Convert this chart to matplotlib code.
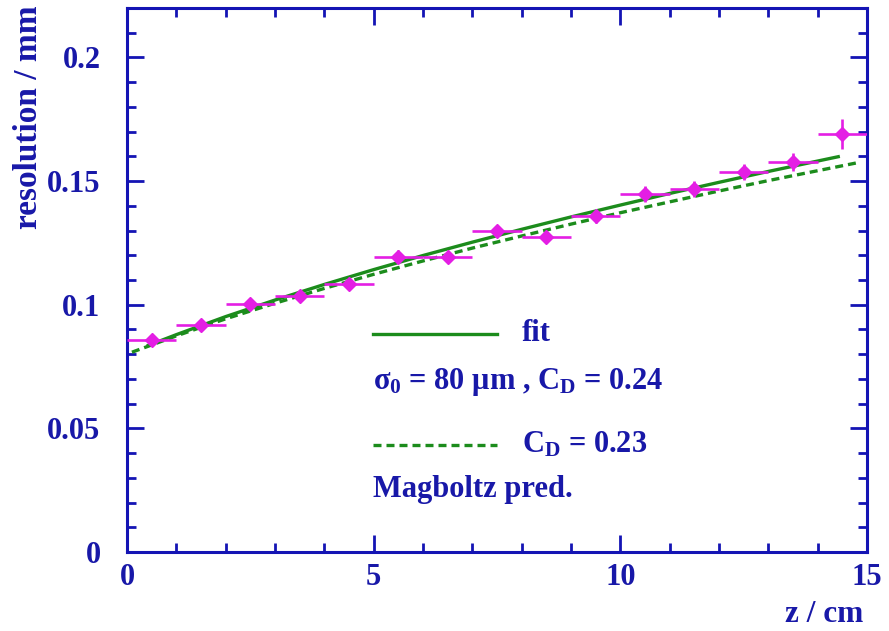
import matplotlib
matplotlib.use("Agg")
import matplotlib.pyplot as plt
from matplotlib.ticker import MultipleLocator, FixedLocator

# ---- data ----
z_bins = [0.5, 1.5, 2.5, 3.5, 4.5, 5.5, 6.5, 7.5, 8.5, 9.5, 10.5, 11.5, 12.5, 13.5, 14.5]
z_halfwidth = [0.5] * 15
resolution = [0.0857, 0.0920, 0.1003, 0.1036, 0.1082, 0.1195, 0.1192, 0.1298, 0.1274,
              0.1357, 0.1448, 0.1468, 0.1538, 0.1577, 0.1690]
res_err = [0.0022, 0.0020, 0.0022, 0.0024, 0.0024, 0.0025, 0.0025, 0.0026, 0.0026,
           0.0028, 0.0034, 0.0032, 0.0032, 0.0036, 0.0060]

fit_z = [0.4, 1, 2, 3, 4, 5, 6, 7, 8, 9, 10, 11, 12, 13, 14.45]
fit_res = [0.0833, 0.0879, 0.0952, 0.1019, 0.1082, 0.1142, 0.1199, 0.1253, 0.1305,
           0.1355, 0.1403, 0.1450, 0.1495, 0.1539, 0.1600]

pred_z = [0.1, 1, 2, 3, 4, 5, 6, 7, 8, 9, 10, 11, 12, 13, 14, 14.8]
pred_res = [0.0808, 0.0874, 0.0943, 0.1006, 0.1066, 0.1123, 0.1177, 0.1229, 0.1278,
            0.1326, 0.1372, 0.1416, 0.1460, 0.1502, 0.1542, 0.1574]

x_ticks = [0, 5, 10, 15]
y_ticks = [0, 0.05, 0.1, 0.15, 0.2]
y_ticklabels = ["0", "0.05", "0.1", "0.15", "0.2"]

# ---- style ----
BLUE = "#1414b4"
TXT = "#1818a8"
GREEN = "#1c8c1c"
MAG = "#e41ee4"
FONT = ["Liberation Serif", "DejaVu Serif"]
plt.rcParams["font.family"] = FONT
plt.rcParams["font.weight"] = "bold"
plt.rcParams["mathtext.fontset"] = "custom"
plt.rcParams["mathtext.rm"] = "Liberation Serif:bold"
plt.rcParams["mathtext.it"] = "Liberation Serif:bold"
plt.rcParams["mathtext.bf"] = "Liberation Serif:bold"

W, H = 889, 631
fig = plt.figure(figsize=(W / 100, H / 100), dpi=100)
L, R, B, T = 127, 867, 552, 8
ax = fig.add_axes([L / W, (H - B) / H, (R - L) / W, (B - T) / H])
ax.set_xlim(0, 15)
ax.set_ylim(0, 0.22)

DASH = (0, (2.4, 1.5))
# curves
ax.plot(fit_z, fit_res, color=GREEN, lw=2.4, solid_capstyle="butt", zorder=3)
ax.plot(pred_z, pred_res, color=GREEN, lw=2.4, ls=DASH, zorder=3)

# data
ax.errorbar(z_bins, resolution, xerr=z_halfwidth, yerr=res_err, fmt="D", color=MAG,
            ms=7.5, elinewidth=1.9, capsize=0, zorder=4)

# frame
for s in ax.spines.values():
    s.set_color(BLUE)
    s.set_linewidth(2.2)

ax.xaxis.set_major_locator(FixedLocator(x_ticks))
ax.xaxis.set_minor_locator(MultipleLocator(1))
ax.yaxis.set_major_locator(FixedLocator(y_ticks))
ax.yaxis.set_minor_locator(MultipleLocator(0.01))
ax.set_yticklabels(y_ticklabels)
ax.set_xticklabels([str(t) for t in x_ticks])

ax.tick_params(which="both", direction="in", top=True, right=True, color=BLUE, width=2.0)
ax.tick_params(which="major", length=12.5)
ax.tick_params(which="minor", length=6.5)
ax.tick_params(axis="both", labelsize=22, labelcolor=TXT)
ax.tick_params(axis="y", pad=19)
ax.tick_params(axis="x", pad=8)
for lab in ax.get_xticklabels() + ax.get_yticklabels():
    lab.set_fontweight("bold")

fig.text(863 / W, 1 - 615 / H, "z / cm", ha="right", va="center", fontsize=22.5,
         color=TXT, fontweight="bold")
fig.text(29 / W, 1 - 5 / H, "resolution / mm", ha="center", va="top", rotation=90,
         fontsize=24, color=TXT, fontweight="bold")

# legend-like annotations
FS = 22
ax.plot([4.99, 7.50], [0.0883, 0.0883], color=GREEN, lw=2.4)
ax.text(8.01, 0.0883, "fit", fontsize=FS, color=TXT, fontweight="bold", va="center")
ax.text(4.99, 0.0689, r"$\sigma_0$ = 80 $\mu$m , C$_\mathrm{D}$ = 0.24", fontsize=FS,
        color=TXT, fontweight="bold", va="center")
ax.plot([4.99, 7.50], [0.0434, 0.0434], color=GREEN, lw=2.4, ls=DASH)
ax.text(8.01, 0.0434, r"C$_\mathrm{D}$ = 0.23", fontsize=FS, color=TXT,
        fontweight="bold", va="center")
ax.text(4.99, 0.0251, "Magboltz pred.", fontsize=FS, color=TXT, fontweight="bold",
        va="center")

fig.savefig("out.png", dpi=100)
